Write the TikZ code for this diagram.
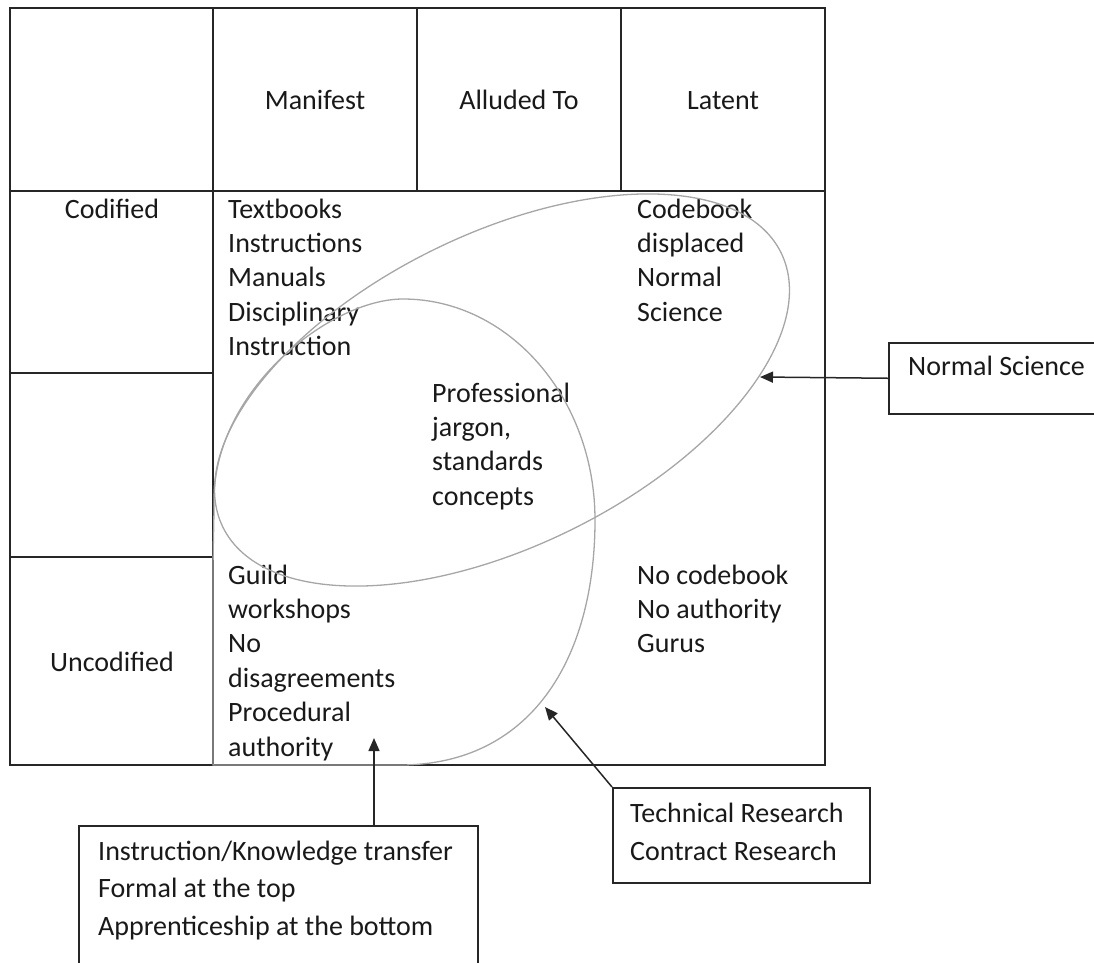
\documentclass[tikz,border=0pt]{standalone}
\usepackage{fontspec}
\setmainfont{Carlito}
\usetikzlibrary{arrows.meta}
\begin{document}
\begin{tikzpicture}[x=1pt,y=-1pt,
  grid/.style={line width=1.5pt, draw=black!85},
  blob/.style={line width=1.3pt, draw=black!35},
  txt/.style={font=\fontsize{28}{34.4}\selectfont, text=black!90, inner sep=0pt, align=left},
  boxtxt/.style={font=\fontsize{28}{37.5}\selectfont, text=black!90, inner sep=0pt, align=left},
  callout/.style={draw=black!85, line width=1.5pt, inner sep=0pt, anchor=north west},
  pointer/.style={line width=1.5pt, draw=black!85, -{Triangle[length=13pt,width=11pt]}}
]
\useasboundingbox (0,0) rectangle (1094,962);
% table grid
\draw[grid] (10,8) rectangle (825,765);
\draw[grid] (213,8) -- (213,765);
\draw[grid] (417,8) -- (417,191);
\draw[grid] (621,8) -- (621,191);
\draw[grid] (10,191) -- (825,191);
\draw[grid] (10,373) -- (213,373);
\draw[grid] (10,557) -- (213,557);
% headers
\node[txt, anchor=base] (manifest) at (315,109) {Manifest};
\node[txt, anchor=base] (alluded) at (519,109) {Alluded To};
\node[txt, anchor=base] (latent) at (723,109) {Latent};
\node[txt, anchor=base] (codified) at (112,218) {Codified};
\node[txt, anchor=base] (uncodified) at (112,671) {Uncodified};
% cell texts (base anchor = baseline of last line)
\node[txt, anchor=base west] (tl) at (228,355.6) {Textbooks\\Instructions\\Manuals\\Disciplinary\\Instruction};
\node[txt, anchor=base west] (tr) at (637,321.2) {Codebook\\displaced\\Normal\\Science};
\node[txt, anchor=base west] (mid) at (432,505.2) {Professional\\jargon,\\standards\\concepts};
\node[txt, anchor=base west] (bl) at (228,756) {Guild\\workshops\\No\\disagreements\\Procedural\\authority};
\node[txt, anchor=base west] (br) at (637,652.8) {No codebook\\No authority\\Gurus};
% shapes
\draw[blob, rotate around={26.2:(502,390)}] (502,390) ellipse [x radius=311pt, y radius=156pt];
\draw[blob] (403,299) .. controls (509,299) and (595,398) .. (595,520)
  .. controls (595,660) and (530,765) .. (400,765)
  -- (213,765) -- (213,580)
  .. controls (213,540) and (214,530) .. (214,500)
  .. controls (214,390) and (330,299) .. (403,299) -- cycle;
% callout boxes
\node[callout, minimum width=230pt, minimum height=71pt] (nsbox) at (888,342) {};
\node[txt, anchor=base west] (nstext) at (908,375) {Normal Science};
\node[callout, minimum width=399pt, minimum height=160pt] (instbox) at (78,825) {};
\node[boxtxt, anchor=base west] (insttext) at (98,935) {Instruction/Knowledge transfer\\Formal at the top\\Apprenticeship at the bottom};
\node[callout, minimum width=257pt, minimum height=95pt] (techbox) at (612,787) {};
\node[boxtxt, anchor=base west] (techtext) at (630,860) {Technical Research\\Contract Research};
% pointers
\coordinate (nstip) at (760,377);
\coordinate (insttip) at (374,738);
\coordinate (techtip) at (545,707);
\draw[pointer] (nsbox.west) -- (nstip);
\draw[pointer] (instbox.north -| insttip) -- (insttip);
\draw[pointer] (techbox.north west) -- (techtip);
\end{tikzpicture}
\end{document}
